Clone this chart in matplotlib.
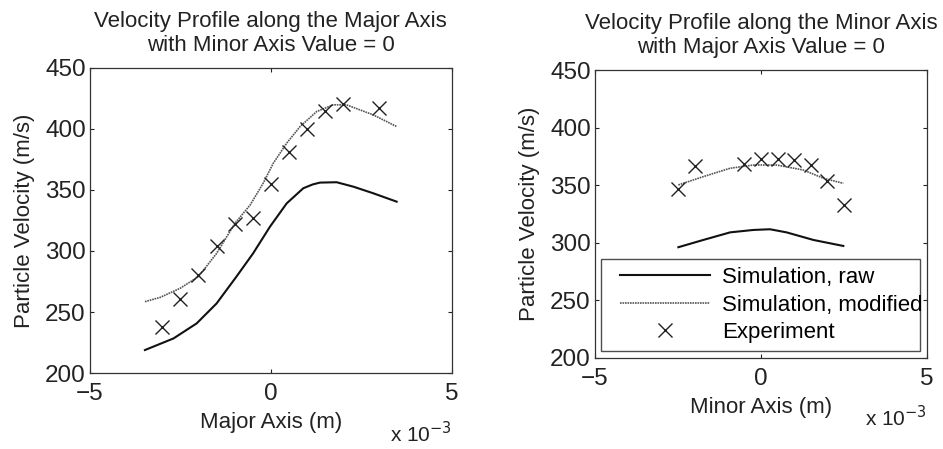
import matplotlib
matplotlib.use("Agg")
import matplotlib.pyplot as plt
from matplotlib.lines import Line2D
from matplotlib.legend_handler import HandlerLine2D

plt.rcParams['font.family'] = ['Liberation Sans', 'DejaVu Sans']

# left panel: along the major axis (x in units of 1e-3 m)
major_sim_x = [-3.48, -3.06, -2.51, -2.0, -1.5, -0.99, -0.57, -0.21, 0.07, 0.44,
               0.81, 1.27, 1.73, 2.09, 2.83, 3.48]
major_mod_y = [258.5, 262, 269.4, 279, 298, 322.7, 337.7, 355.5, 371.9, 388.3,
               401.9, 414.2, 419.7, 419.7, 411.5, 401.9]
major_raw_x = [-3.48, -2.69, -2.05, -1.5, -0.95, -0.49, -0.02, 0.44, 0.9, 1.16, 1.36,
               1.82, 2.28, 2.83, 3.48]
major_raw_y = [218.9, 228.4, 240.7, 257, 279, 298, 320, 339, 351.4, 354.5, 356,
               356.3, 352.7, 347.3, 340.4]
major_exp_x = [-3.0, -2.5, -2.0, -1.5, -1.0, -0.5, 0.0, 0.5, 1.0, 1.5, 2.0, 3.0]
major_exp_y = [238, 261, 280, 304, 322, 327, 355, 381, 400, 415, 420.5, 417]

# right panel: along the minor axis
minor_mod_x = [-2.49, -1.74, -0.93, -0.23, 0.47, 1.27, 1.88, 2.48]
minor_mod_y = [350.2, 357.4, 364.7, 367.5, 367.5, 363.2, 356, 351.6]
minor_raw_x = [-2.49, -1.74, -0.93, -0.23, 0.27, 0.77, 1.58, 2.48]
minor_raw_y = [296.1, 302.4, 309, 311.1, 311.7, 309, 302.4, 297.2]
minor_exp_x = [-2.5, -2.0, -0.5, 0.0, 0.5, 1.0, 1.5, 2.0, 2.5]
minor_exp_y = [347, 367, 368, 373, 373, 372, 367.5, 354, 333]

xticks = [-5, 0, 5]
yticks = [200, 250, 300, 350, 400, 450]

fig = plt.figure(figsize=(9.43, 4.49), dpi=100)
ax1 = fig.add_axes([0.0954, 0.169, 0.3835, 0.680])
ax2 = fig.add_axes([0.631, 0.203, 0.352, 0.641])


def style_axes(ax, xlabel, title):
    ax.set_xlim(-5, 5)
    ax.set_ylim(200, 450)
    ax.set_xticks(xticks)
    ax.set_xticklabels(['\u22125', '0', '5'])
    ax.set_yticks(yticks)
    ax.tick_params(direction='in', top=True, right=True, labelsize=17.5,
                   length=3, width=0.8, colors='#222222')
    ax.tick_params(axis='x', pad=7)
    ax.tick_params(axis='y', pad=3)
    for s in ax.spines.values():
        s.set_linewidth(0.9)
        s.set_color('#333333')
    ax.set_xlabel(xlabel, fontsize=16, color='#222222', labelpad=5)
    ax.set_ylabel('Particle Velocity (m/s)', fontsize=16, color='#222222', labelpad=7)
    ax.set_title(title, fontsize=16, color='#222222', pad=12, linespacing=1.2)


ax1.plot(major_raw_x, major_raw_y, color='#111111', lw=1.5)
ax1.plot(major_sim_x, major_mod_y, color='#555555', lw=1.2, ls=(0, (1, 0.5)))
ax1.plot(major_exp_x, major_exp_y, 'x', color='#222222', ms=10, mew=1.0)
style_axes(ax1, 'Major Axis (m)',
           'Velocity Profile along the Major Axis\nwith Minor Axis Value = 0')
ax1.text(1.0, -0.157, r'x 10$^{-3}$', transform=ax1.transAxes, ha='right', va='top',
         fontsize=15, color='#222222')

ax2.plot(minor_raw_x, minor_raw_y, color='#111111', lw=1.5, label='Simulation, raw')
ax2.plot(minor_mod_x, minor_mod_y, color='#555555', lw=1.2, ls=(0, (1, 0.5)),
         label='Simulation, modified')
ax2.plot(minor_exp_x, minor_exp_y, 'x', color='#222222', ms=10, mew=1.0, label='Experiment')
style_axes(ax2, 'Minor Axis (m)',
           'Velocity Profile along the Minor Axis\nwith Major Axis Value = 0')
ax2.text(1.0, -0.163, r'x 10$^{-3}$', transform=ax2.transAxes, ha='right', va='top',
         fontsize=15, color='#222222')

leg = ax2.legend(loc='lower left', bbox_to_anchor=(0.018, 0.024, 0.961, 0.323), mode='expand',
                 fontsize=16, frameon=True, fancybox=False, handlelength=4.55,
                 borderpad=0.35, labelspacing=0.3, handletextpad=0.55, borderaxespad=0,
                 handler_map={Line2D: HandlerLine2D(xpad=0.5)})
leg.get_frame().set_edgecolor('#222222')
leg.get_frame().set_linewidth(1.0)

fig.savefig('out.png', dpi=100)
